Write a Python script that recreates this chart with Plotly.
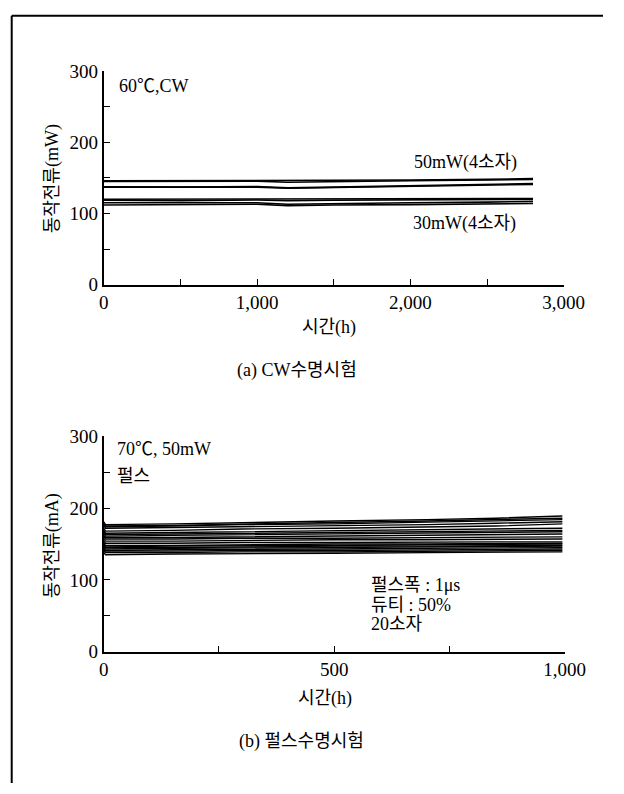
import plotly.graph_objects as go

# ---------------- data ----------------
cw_hours = [0, 500, 1000, 1200, 1500, 2000, 2500, 2800]
cw_50mw_devices = [
    [146, 146, 146.5, 146, 146, 147, 148, 149],
    [145, 145, 145.5, 144, 145, 146, 147, 148],
    [137.5, 137, 138, 136, 137, 139, 140, 142],
    [137, 136.5, 137, 135.5, 136.5, 138, 139.5, 141],
]
cw_30mw_devices = [
    [120, 120, 120.5, 120, 120, 120.5, 121, 121],
    [118.5, 118, 119, 118, 118.5, 119, 119.5, 120],
    [115, 114.5, 115, 113, 114, 115, 116, 117],
    [112, 112, 113, 111, 112, 112.5, 113.5, 114],
]
cw_xticks = [0, 1000, 2000, 3000]
cw_xticklabels = ["0", "1,000", "2,000", "3,000"]
cw_xminor = [500, 1500, 2500]

pulse_hours = [0, 4, 150, 300, 500, 700, 850, 995]
pulse_devices = [
    [181, 177, 178, 180, 182, 184, 186, 189],
    [179, 175, 176, 178, 180, 182, 184, 186],
    [178, 174, 175, 177, 178, 180, 182, 184],
    [176, 172, 173, 174, 176, 177, 179, 181],
    [172, 168, 169, 171, 172, 174, 175, 178],
    [169, 165, 166, 167, 168, 170, 171, 172],
    [167, 163, 164, 165, 166, 167, 168, 169],
    [165, 161, 162, 163, 164, 165, 166, 167],
    [162, 159, 159, 160, 161, 162, 163, 164],
    [160, 157, 157, 158, 158, 159, 160, 160],
    [157, 154, 154, 155, 156, 156, 157, 157],
    [154, 151, 151, 152, 152, 153, 153, 153],
    [151, 148, 148, 149, 150, 150, 151, 151],
    [149, 146, 147, 147, 148, 149, 149, 150],
    [148, 145, 145, 146, 147, 147, 148, 148],
    [146, 143, 144, 144, 145, 146, 146, 147],
    [144, 141, 142, 142, 143, 144, 144, 145],
    [142, 140, 140, 141, 141, 142, 142, 143],
    [140, 138, 138, 139, 139, 140, 140, 141],
    [138, 135, 136, 136, 137, 138, 138, 139],
]
pulse_xticks = [0, 500, 1000]
pulse_xticklabels = ["0", "500", "1,000"]
pulse_xminor = [250, 750]

y_ticks = [0, 100, 200, 300]
y_minor = [50, 150, 250]

# ---------------- layout helpers ----------------
W, H = 624, 794
FONT = "Liberation Serif, Noto Sans CJK KR, serif"


def px(x):
    return x / W


def py(y):
    return 1 - y / H


fig = go.Figure()

for dev in cw_50mw_devices + cw_30mw_devices:
    fig.add_trace(go.Scatter(x=cw_hours, y=dev, mode="lines",
                             line=dict(color="black", width=1.6),
                             xaxis="x", yaxis="y", showlegend=False,
                             hoverinfo="skip"))

for dev in pulse_devices:
    fig.add_trace(go.Scatter(x=pulse_hours, y=dev, mode="lines",
                             line=dict(color="black", width=1.4),
                             xaxis="x2", yaxis="y2", showlegend=False,
                             hoverinfo="skip"))

axis_common = dict(showgrid=False, zeroline=False, showline=True,
                   linecolor="black", linewidth=1.6, ticks="inside",
                   ticklen=6, tickwidth=1.4, tickcolor="black",
                   tickfont=dict(family=FONT, size=19, color="black"))
minor_common = dict(ticks="inside", ticklen=6, tickwidth=1.2, tickcolor="black")

fig.update_layout(
    autosize=True,
    margin=dict(l=0, r=0, t=0, b=0),
    paper_bgcolor="white", plot_bgcolor="white",
    showlegend=False,
    xaxis=dict(domain=[px(103), px(583)], anchor="y", range=[0, 3000],
               tickvals=cw_xticks, ticktext=cw_xticklabels,
               minor=dict(tickvals=cw_xminor, **minor_common),
               **axis_common),
    yaxis=dict(domain=[py(282), py(63)], anchor="x", range=[0, 300],
               tickvals=y_ticks,
               minor=dict(tickvals=y_minor, **minor_common),
               **axis_common),
    xaxis2=dict(domain=[px(103), px(584)], anchor="y2", range=[0, 1000],
                tickvals=pulse_xticks, ticktext=pulse_xticklabels,
                minor=dict(tickvals=pulse_xminor, **minor_common),
                **axis_common),
    yaxis2=dict(domain=[py(659), py(438)], anchor="x2", range=[0, 300],
                tickvals=y_ticks,
                minor=dict(tickvals=y_minor, **minor_common),
                **axis_common),
)

annotations = [
    # top chart
    dict(text="60℃,CW", x=px(117), y=py(78), xanchor="left", yanchor="middle"),
    dict(text="50mW(4소자)", x=px(480), y=py(157), xanchor="center", yanchor="middle"),
    dict(text="30mW(4소자)", x=px(479), y=py(219), xanchor="center", yanchor="middle"),
    dict(text="동작전류(mW)", x=px(50), y=py(173), xanchor="center", yanchor="middle",
         textangle=-90),
    dict(text="시간(h)", x=px(338), y=py(326), xanchor="center", yanchor="middle"),
    dict(text="(a) CW수명시험", x=px(305), y=py(370), xanchor="center", yanchor="middle"),
    # bottom chart
    dict(text="70℃, 50mW", x=px(115), y=py(451), xanchor="left", yanchor="middle"),
    dict(text="펄스", x=px(115), y=py(479), xanchor="left", yanchor="middle"),
    dict(text="펄스폭 : 1μs", x=px(380), y=py(591), xanchor="left", yanchor="middle"),
    dict(text="듀티 : 50%", x=px(380), y=py(611), xanchor="left", yanchor="middle"),
    dict(text="20소자", x=px(380), y=py(631), xanchor="left", yanchor="middle"),
    dict(text="동작전류(mA)", x=px(50), y=py(550), xanchor="center", yanchor="middle",
         textangle=-90),
    dict(text="시간(h)", x=px(334), y=py(707), xanchor="center", yanchor="middle"),
    dict(text="(b) 펄스수명시험", x=px(309), y=py(751), xanchor="center", yanchor="middle"),
]
for a in annotations:
    a.update(xref="paper", yref="paper", showarrow=False,
             font=dict(family=FONT, size=18, color="black"))
fig.update_layout(annotations=annotations)

# page frame (left and top rules)
fig.update_layout(shapes=[
    dict(type="line", xref="paper", yref="paper", x0=px(7), x1=px(7),
         y0=0, y1=py(6), line=dict(color="black", width=2)),
    dict(type="line", xref="paper", yref="paper", x0=px(7), x1=1,
         y0=py(6), y1=py(6), line=dict(color="black", width=2)),
])

fig.write_html(
    "out.html",
    config={"displayModeBar": False, "responsive": True},
    default_width="100vw",
    default_height="100vh",
    post_script=(
        "document.documentElement.style.margin='0';"
        "document.documentElement.style.overflow='hidden';"
        "document.body.style.margin='0';"
        "document.body.style.overflow='hidden';"
        "Plotly.Plots.resize(document.getElementById('{plot_id}'));"
    ),
)
